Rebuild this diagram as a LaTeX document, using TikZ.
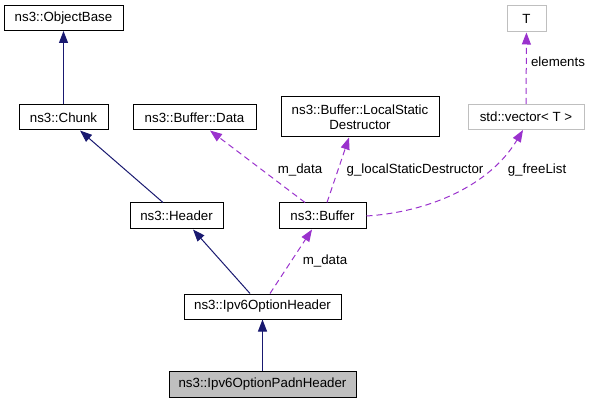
\documentclass[tikz,border=0pt]{standalone}
\usepackage{fontspec}
\setmainfont{Liberation Sans}
\usepackage{tikz}
\usetikzlibrary{arrows.meta,positioning,calc}

\definecolor{navyedge}{HTML}{191970}
\definecolor{purpedge}{HTML}{9A32CD}
\definecolor{greybox}{HTML}{BFBFBF}

\tikzset{
  cls/.style={draw=black, line width=1pt, fill=white, inner sep=0pt, minimum height=25pt, align=center, font=\fontsize{13.3}{15.5}\selectfont},
  tmpl/.style={cls, draw=greybox},
  inh/.style={draw=navyedge, line width=1pt, -{Triangle[width=9pt,length=12pt]}},
  usage/.style={draw=purpedge, line width=1pt, dash pattern=on 6pt off 4pt, -{Triangle[width=9pt,length=12pt]}},
  lbl/.style={font=\fontsize{13.3}{15.5}\selectfont, inner sep=0pt}
}

\begin{document}
\begin{tikzpicture}[x=1pt,y=-1pt]
\useasboundingbox (0,0) rectangle (591,403);

\node[cls, minimum width=119pt] (ob) at (63.5,18) {ns3::ObjectBase};

\node[cls, minimum width=89pt] (chunk) at (63.5,117.5) {ns3::Chunk};
\node[cls, minimum width=123pt] (data) at (194.5,117.5) {ns3::Buffer::Data};
\node[cls, minimum width=158pt, minimum height=40pt] (lsd) at (360,117) {ns3::Buffer::LocalStatic\\Destructor};

\node[tmpl, minimum width=39pt, minimum height=26pt] (t) at (526.5,19) {T};
\node[tmpl, minimum width=116pt] (vec) at (526,117) {std::vector< T >};

\node[cls, minimum width=93pt, minimum height=26pt] (hdr) at (176.5,216) {ns3::Header};
\node[cls, minimum width=87pt, minimum height=26pt] (buf) at (322.5,216) {ns3::Buffer};

\node[cls, minimum width=157pt] (opt) at (262.5,306.5) {ns3::Ipv6OptionHeader};
\node[cls, fill=greybox, minimum width=187pt, minimum height=26pt] (padn) at (262.5,384) {ns3::Ipv6OptionPadnHeader};

% inheritance
\draw[inh] (chunk) -- (ob);
\draw[inh] ($(hdr.north)+(-13.5,0)$) -- ($(chunk.south)+(16.5,0)$);
\draw[inh] ($(opt.north)+(-12.5,0)$) -- ($(hdr.south)+(16.5,0)$);
\draw[inh] (padn) -- (opt);

% members
\draw[usage] ($(buf.north)+(-17.5,0)$) -- ($(data.south)+(15.5,0)$);
\draw[usage] ($(buf.north)+(4.5,0)$) -- ($(lsd.south)+(-11,0)$);
\draw[usage] (buf.east) .. controls (430,212) and (490,185) .. ($(vec.south)+(-3,0)$);
\draw[usage] (vec) -- (t);
\draw[usage] ($(opt.north)+(7.5,0)$) -- ($(buf.south)+(-10.5,0)$);

\node[lbl] (l1) at (300,170) {m\_data};
\node[lbl] (l2) at (415,170) {g\_localStaticDestructor};
\node[lbl] (l3) at (537,170) {g\_freeList};
\node[lbl] (l4) at (558,62) {elements};
\node[lbl] (l5) at (325,261) {m\_data};

\end{tikzpicture}
\end{document}
